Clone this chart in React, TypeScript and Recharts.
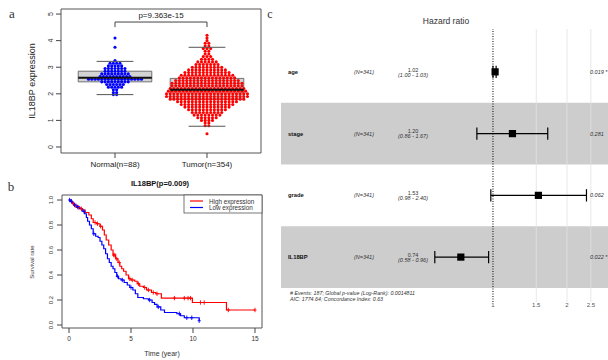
import React from 'react';
import { ComposedChart, Scatter, Line, XAxis, YAxis, ReferenceArea, ReferenceLine } from 'recharts';

const FONT = '"Liberation Sans", Arial, Helvetica, sans-serif';
const SERIF = '"Liberation Serif", "Times New Roman", serif';

// ---------------- Panel a data ----------------
const groupLabels = ['Normal(n=88)', 'Tumor(n=354)'];
const groupPositions = [1, 2];
const exprTicks = [0, 1, 2, 3, 4, 5];
const pValueText = 'p=9.363e-15';
// [expression level, number of samples at that level]
const normalBins: [number, number][] = [
  [1.97, 2], [2.05, 2], [2.15, 2], [2.25, 5], [2.35, 6], [2.45, 9], [2.55, 17], [2.65, 10],
  [2.75, 9], [2.85, 7], [2.95, 7], [3.05, 5], [3.15, 4], [3.25, 1], [3.75, 1], [4.1, 1],
];
const tumorBins: [number, number][] = [
  [0.5, 1], [0.8, 2], [0.9, 2], [1.0, 4], [1.1, 6], [1.2, 8], [1.3, 9], [1.4, 11], [1.5, 13],
  [1.6, 15], [1.7, 17], [1.8, 21], [1.9, 23], [2.0, 23], [2.1, 22], [2.2, 21], [2.3, 20],
  [2.4, 20], [2.5, 18], [2.6, 16], [2.7, 15], [2.8, 13], [2.9, 11], [3.0, 9], [3.1, 7],
  [3.2, 6], [3.3, 4], [3.4, 3], [3.5, 2], [3.6, 2], [3.7, 3], [3.8, 2], [3.9, 2], [4.0, 1],
  [4.1, 1], [4.2, 1],
];
const boxStats = [
  { pos: 1, low: 1.97, q1: 2.45, med: 2.6, q3: 2.85, high: 3.22 },
  { pos: 2, low: 0.78, q1: 1.8, med: 2.15, q3: 2.58, high: 3.75 },
];

// ---------------- Panel b data ----------------
const survTicks = [0, 0.2, 0.4, 0.6, 0.8, 1.0];
const timeTicks = [0, 5, 10, 15];
const kmTitle = 'IL18BP(p=0.009)';
const highSteps: [number, number][] = [
  [0, 1], [0.15, 0.985], [0.3, 0.97], [0.45, 0.955], [0.6, 0.94], [0.9, 0.93], [1.1, 0.92],
  [1.3, 0.9], [1.6, 0.88], [1.8, 0.85], [1.95, 0.82], [2.2, 0.81], [2.5, 0.79], [2.7, 0.76],
  [2.85, 0.72], [3.0, 0.68], [3.2, 0.64], [3.4, 0.6], [3.55, 0.56], [3.75, 0.53], [3.95, 0.5],
  [4.1, 0.47], [4.25, 0.45], [4.4, 0.43], [4.6, 0.4], [4.8, 0.37], [5.0, 0.36], [5.3, 0.35],
  [5.5, 0.33], [5.7, 0.31], [6.0, 0.3], [6.25, 0.28], [6.65, 0.26], [7.0, 0.25], [7.45, 0.215],
  [9.95, 0.18], [12.7, 0.12], [15, 0.12],
];
const lowSteps: [number, number][] = [
  [0, 1], [0.1, 0.99], [0.25, 0.975], [0.4, 0.96], [0.6, 0.945], [0.85, 0.93], [1.05, 0.91],
  [1.25, 0.89], [1.4, 0.86], [1.5, 0.83], [1.65, 0.8], [1.8, 0.77], [1.95, 0.73], [2.15, 0.71],
  [2.35, 0.7], [2.5, 0.67], [2.65, 0.64], [2.8, 0.61], [2.95, 0.57], [3.1, 0.53], [3.25, 0.5],
  [3.4, 0.47], [3.55, 0.45], [3.7, 0.42], [3.85, 0.39], [4.0, 0.37], [4.2, 0.36], [4.45, 0.34],
  [4.7, 0.32], [4.9, 0.3], [5.15, 0.28], [5.35, 0.25], [5.55, 0.22], [6.0, 0.21], [6.4, 0.2],
  [6.7, 0.18], [6.9, 0.165], [7.1, 0.145], [7.4, 0.12], [7.7, 0.1], [8.7, 0.09], [9.0, 0.074],
  [9.3, 0.058], [10.5, 0.034],
];
const highCensor = [0.35, 0.55, 0.75, 1.0, 2.1, 2.3, 2.55, 3.6, 3.7, 3.85, 4.05, 4.9, 5.1, 5.6,
  6.1, 6.4, 6.8, 7.1, 8.5, 9.3, 9.6, 9.8, 10.6, 10.9, 12.85, 15];
const lowCensor = [0.05, 0.2, 0.45, 0.7, 1.2, 2.0, 3.9, 4.3, 5.0, 6.5, 7.2, 8.9, 9.5, 9.9, 10.5];
const legendNames = ['High expression', 'Low expression'];
const kmColors = ['#ff0000', '#0000ff'];

// ---------------- Panel c data ----------------
const forestVars = ['age', 'stage', 'grade', 'IL18BP'];
const forestN = [341, 341, 341, 341];
const forestHR = [1.02, 1.2, 1.53, 0.74];
const forestLo = [1.0, 0.86, 0.98, 0.58];
const forestHi = [1.03, 1.67, 2.4, 0.96];
const forestP = ['0.019 *', '0.281', '0.062', '0.022 *'];
const hrTicks = [1, 1.5, 2, 2.5];
const footer1 = '# Events: 187; Global p-value (Log-Rank): 0.0014811';
const footer2 = 'AIC: 1774.64; Concordance Index: 0.63';

// ---------------- helpers ----------------
const swarm = (bins: [number, number][], pos: number, step: number) =>
  bins.flatMap(([y, n]) => Array.from({ length: n }, (_, i) => ({ x: pos + (i - (n - 1) / 2) * step, y })));

const normalPts = swarm(normalBins, groupPositions[0], 0.036);
const tumorPts = swarm(tumorBins, groupPositions[1], 0.04);

const toData = (steps: [number, number][]) => steps.map(([t, s]) => ({ t, s }));
const survAt = (steps: [number, number][], t: number) => {
  let s = steps[0][1];
  for (const [tt, ss] of steps) if (tt <= t) s = ss;
  return s;
};
const highData = toData(highSteps);
const lowData = toData(lowSteps);
const highCens = highCensor.map((t) => ({ t, s: survAt(highSteps, t) }));
const lowCens = lowCensor.map((t) => ({ t, s: survAt(lowSteps, t) }));

const forestData = forestVars.map((v, i) => ({ name: v, row: i + 0.5, hr: forestHR[i] }));

const RotTick = (props: any) => {
  const { x, y, payload, fs, off, fmt } = props;
  const tx = x - off;
  return (
    <text x={tx} y={y} transform={`rotate(-90 ${tx} ${y})`} textAnchor="middle" fontSize={fs}
      fontFamily={FONT} fill="#333">{fmt ? fmt(payload.value) : payload.value}</text>
  );
};

const Txt = (p: any) => (
  <text x={p.x} y={p.y} fontSize={p.fs} textAnchor={p.anchor || 'middle'} dominantBaseline="central"
    fontWeight={p.weight} fontStyle={p.italic ? 'italic' : undefined} fill={p.fill || '#222'}
    fontFamily={p.family || FONT} transform={p.rot ? `rotate(${p.rot} ${p.x} ${p.y})` : undefined}>{p.s}</text>
);

const dot = (color: string, r: number) => (p: any) => <circle cx={p.cx} cy={p.cy} r={r} fill={color} />;
const plus = (color: string) => (p: any) => (
  <g stroke={color} strokeWidth={0.9}>
    <line x1={p.cx} y1={p.cy - 2.2} x2={p.cx} y2={p.cy + 2.2} />
    <line x1={p.cx - 1.6} y1={p.cy} x2={p.cx + 1.6} y2={p.cy} />
  </g>
);
const square = (p: any) => <rect x={p.cx - 3.6} y={p.cy - 3.6} width={7.2} height={7.2} fill="#000" />;

const A_X: [number, number] = [0.413, 2.587];
const A_Y: [number, number] = [-0.226, 5.19];
const B_X: [number, number] = [-0.565, 15.565];
const B_Y: [number, number] = [-0.024, 1.04];
const C_X: [number, number] = [0.1374, 2.936];
const C_Y: [number, number] = [-0.194, 4.227];

const rowY = (i: number) => 41 + 61.75 * (i + 0.5);

export default function App() {
  return (
    <div style={{ position: 'absolute', left: 0, top: 0, width: 608, height: 360, overflow: 'hidden', background: '#fff' }}>
      {/* Panel a */}
      <div style={{ position: 'absolute', left: 0, top: 0 }}>
        <ComposedChart width={300} height={180} margin={{ top: 9, right: 39, bottom: 7, left: 0 }}>
          <XAxis type="number" dataKey="x" domain={A_X} allowDataOverflow ticks={groupPositions} interval={0}
            tickFormatter={(v: number) => groupLabels[groupPositions.indexOf(v)]} axisLine={false}
            tickLine={{ stroke: '#444' }} tickSize={5} tickMargin={3} height={20}
            tick={{ fontSize: 8, fill: '#222', fontFamily: FONT }} />
          <YAxis type="number" dataKey="y" domain={A_Y} allowDataOverflow ticks={exprTicks} interval={0}
            axisLine={false} tickLine={{ stroke: '#444' }} tickSize={5} width={61}
            tick={(p: any) => <RotTick {...p} fs={7} off={1} />} />
          {boxStats.map((b) => (
            <ReferenceArea key={'box' + b.pos} x1={b.pos - 0.4} x2={b.pos + 0.4} y1={b.q1} y2={b.q3}
              fill="#d3d3d3" fillOpacity={1} stroke="#555" strokeWidth={0.8} ifOverflow="visible" />
          ))}
          <Scatter data={normalPts} shape={dot('#0000ff', 1.55)} isAnimationActive={false} />
          <Scatter data={tumorPts} shape={dot('#ff0000', 1.55)} isAnimationActive={false} />
          {boxStats.map((b) => (
            <ReferenceLine key={'med' + b.pos} zIndex={700} segment={[{ x: b.pos - 0.4, y: b.med }, { x: b.pos + 0.4, y: b.med }]}
              stroke="#111" strokeWidth={2} ifOverflow="visible" />
          ))}
          {boxStats.map((b) => (
            <ReferenceLine key={'hi' + b.pos} zIndex={700} segment={[{ x: b.pos - 0.2, y: b.high }, { x: b.pos + 0.2, y: b.high }]}
              stroke="#555" strokeWidth={1} ifOverflow="visible" />
          ))}
          {boxStats.map((b) => (
            <ReferenceLine key={'lo' + b.pos} zIndex={700} segment={[{ x: b.pos - 0.2, y: b.low }, { x: b.pos + 0.2, y: b.low }]}
              stroke="#555" strokeWidth={1} ifOverflow="visible" />
          ))}
          <ReferenceLine segment={[{ x: 1, y: 4.51 }, { x: 1, y: 4.7 }]} stroke="#444" ifOverflow="visible" />
          <ReferenceLine segment={[{ x: 1, y: 4.7 }, { x: 2, y: 4.7 }]} stroke="#444" ifOverflow="visible" />
          <ReferenceLine segment={[{ x: 2, y: 4.7 }, { x: 2, y: 4.51 }]} stroke="#444" ifOverflow="visible" />
          <ReferenceArea x1={A_X[0]} x2={A_X[1]} y1={A_Y[0]} y2={A_Y[1]} fill="none" stroke="#555" strokeWidth={1} ifOverflow="visible" />
        </ComposedChart>
      </div>

      {/* Panel b */}
      <div style={{ position: 'absolute', left: 0, top: 180 }}>
        <ComposedChart width={300} height={180} margin={{ top: 15, right: 38, bottom: 7, left: 0 }}>
          <XAxis type="number" dataKey="t" domain={B_X} allowDataOverflow ticks={timeTicks} interval={0}
            axisLine={false} tickLine={{ stroke: '#444' }} tickSize={5} tickMargin={3} height={25}
            tick={{ fontSize: 6.5, fill: '#333', fontFamily: FONT }} />
          <YAxis type="number" dataKey="s" domain={B_Y} allowDataOverflow ticks={survTicks} interval={0}
            axisLine={false} tickLine={{ stroke: '#444' }} tickSize={5} width={62}
            tick={(p: any) => <RotTick {...p} fs={6} off={2} fmt={(v: number) => v.toFixed(1)} />} />
          <Line data={highData} dataKey="s" type="stepAfter" stroke={kmColors[0]} strokeWidth={1.2} dot={false} isAnimationActive={false} />
          <Line data={lowData} dataKey="s" type="stepAfter" stroke={kmColors[1]} strokeWidth={1.2} dot={false} isAnimationActive={false} />
          <Scatter data={highCens} shape={plus(kmColors[0])} isAnimationActive={false} />
          <Scatter data={lowCens} shape={plus(kmColors[1])} isAnimationActive={false} />
          <ReferenceArea x1={B_X[0]} x2={B_X[1]} y1={B_Y[0]} y2={B_Y[1]} fill="none" stroke="#555" strokeWidth={1} ifOverflow="visible" />
        </ComposedChart>
      </div>

      {/* Panel c */}
      <div style={{ position: 'absolute', left: 280, top: 0 }}>
        <ComposedChart width={328} height={320} margin={{ top: 29, right: 0, bottom: 4, left: 1 }}>
          <XAxis type="number" dataKey="hr" scale="log" domain={C_X} allowDataOverflow ticks={hrTicks} interval={0}
            axisLine={false} tickLine={false} tickSize={0} tickMargin={1} height={14}
            tick={{ fontSize: 6, fill: '#555', fontFamily: FONT }} />
          <YAxis type="number" dataKey="row" domain={C_Y} allowDataOverflow reversed hide />
          <ReferenceArea x1={C_X[0]} x2={C_X[1]} y1={1} y2={2} fill="#cdcdcd" fillOpacity={1} ifOverflow="visible" />
          <ReferenceArea x1={C_X[0]} x2={C_X[1]} y1={3} y2={4} fill="#cdcdcd" fillOpacity={1} ifOverflow="visible" />
          {hrTicks.slice(1).map((t) => (
            <ReferenceLine key={'g' + t} x={t} stroke="#e2e2e2" strokeWidth={0.8} ifOverflow="visible" />
          ))}
          <ReferenceLine x={1} stroke="#000" strokeWidth={1} strokeDasharray="1 1.5" ifOverflow="visible" />
          {forestVars.map((v, i) => (
            <ReferenceLine key={'ci' + v} segment={[{ x: forestLo[i], y: i + 0.5 }, { x: forestHi[i], y: i + 0.5 }]}
              stroke="#000" strokeWidth={1.2} ifOverflow="visible" />
          ))}
          {forestVars.map((v, i) => (
            <ReferenceLine key={'cl' + v} segment={[{ x: forestLo[i], y: i + 0.4 }, { x: forestLo[i], y: i + 0.6 }]}
              stroke="#000" strokeWidth={1.2} ifOverflow="visible" />
          ))}
          {forestVars.map((v, i) => (
            <ReferenceLine key={'ch' + v} segment={[{ x: forestHi[i], y: i + 0.4 }, { x: forestHi[i], y: i + 0.6 }]}
              stroke="#000" strokeWidth={1.2} ifOverflow="visible" />
          ))}
          <Scatter data={forestData} shape={square} isAnimationActive={false} />
        </ComposedChart>
      </div>

      {/* Text overlay */}
      <svg width={608} height={360} style={{ position: 'absolute', left: 0, top: 0, pointerEvents: 'none' }}>
        <Txt x={12} y={13} s="a" fs={13} family={SERIF} fill="#333" />
        <Txt x={11} y={186} s="b" fs={13} family={SERIF} fill="#333" />
        <Txt x={270} y={14} s="c" fs={12} family={SERIF} fill="#333" />

        <Txt x={161} y={15} s={pValueText} fs={8} fill="#222" />
        <Txt x={32} y={81} s="IL18BP expression" fs={9} rot={-90} fill="#222" />

        <Txt x={160} y={183} s={kmTitle} fs={7.5} weight="bold" fill="#111" />
        <Txt x={32} y={262} s="Survival rate" fs={6} rot={-90} fill="#333" />
        <Txt x={162} y={353} s="Time (year)" fs={7} fill="#333" />
        <rect x={184} y={195} width={78} height={18} fill="#fff" stroke="#555" strokeWidth={0.8} />
        {legendNames.map((n, i) => (
          <g key={n}>
            <line x1={190} x2={203} y1={201 + i * 6.5} y2={201 + i * 6.5} stroke={kmColors[i]} strokeWidth={1.2} />
            <Txt x={209} y={201 + i * 6.5} s={n} fs={6.3} anchor="start" fill="#333" />
          </g>
        ))}

        <Txt x={446} y={21} s="Hazard ratio" fs={8.5} fill="#333" />
        {forestVars.map((v, i) => (
          <g key={'t' + v}>
            <Txt x={288} y={rowY(i)} s={v} fs={5.8} weight="bold" anchor="start" fill="#111" />
            <Txt x={364} y={rowY(i)} s={`(N=${forestN[i]})`} fs={5.5} italic fill="#333" />
            <Txt x={413} y={rowY(i) - 2.2} s={forestHR[i].toFixed(2)} fs={5.5} fill="#333" />
            <Txt x={413} y={rowY(i) + 2.8} s={`(${forestLo[i].toFixed(2)} - ${forestHi[i].toFixed(2)})`} fs={5.5} italic fill="#333" />
            <Txt x={590} y={rowY(i)} s={forestP[i]} fs={5.5} italic anchor="start" fill="#333" />
          </g>
        ))}
        <Txt x={290} y={292.5} s={footer1} fs={5.3} italic anchor="start" fill="#333" />
        <Txt x={290} y={299} s={footer2} fs={5.3} italic anchor="start" fill="#333" />
      </svg>
    </div>
  );
}
